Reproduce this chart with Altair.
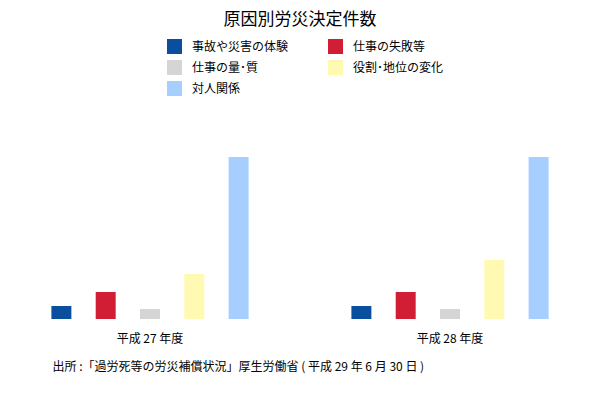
import altair as alt
import pandas as pd

years = ["平成 27 年度", "平成 28 年度"]
categories = ["事故や災害の体験", "仕事の失敗等", "仕事の量･質", "役割･地位の変化", "対人関係"]
colors = ["#0a4f9e", "#d21e34", "#d5d5d5", "#fff9b1", "#a6ceff"]
values_h27 = [13, 27, 10, 45, 162]
values_h28 = [13, 27, 10, 59, 162]
# legend is laid out column by column (3 rows x 2 columns)
legend_order = [0, 2, 4, 1, 3]

rows = []
for y, vals in zip(years, [values_h27, values_h28]):
    for c, v in zip(categories, vals):
        rows.append({"年度": y, "原因": c, "件数": v})
df = pd.DataFrame(rows)

FONT = "Noto Sans CJK JP"
SOURCE = "出所 :「過労死等の労災補償状況」厚生労働省 ( 平成 29 年 6 月 30 日 )"

chart = alt.Chart(df).mark_bar().encode(
    x=alt.X("年度:N", sort=years,
            scale=alt.Scale(paddingInner=0.2, paddingOuter=0.0733),
            axis=alt.Axis(title=SOURCE, labelAngle=0, domain=False, ticks=False,
                          labelPadding=14, labelFontSize=12, labelColor="#000",
                          labelFont=FONT, titleFont=FONT, titleFontSize=12,
                          titleFontWeight="normal", titleColor="#000",
                          titleAnchor="start", titleAlign="left",
                          titleX=44, titleY=47, titleBaseline="middle")),
    xOffset=alt.XOffset("原因:N", sort=categories,
                        scale=alt.Scale(paddingInner=0.549, paddingOuter=0.483)),
    y=alt.Y("件数:Q", scale=alt.Scale(domain=[0, 162], nice=False), axis=None),
    color=alt.Color("原因:N",
                    scale=alt.Scale(domain=[categories[i] for i in legend_order],
                                    range=[colors[i] for i in legend_order]),
                    legend=alt.Legend(title=None, orient="none", legendX=159, legendY=-118,
                                      columns=2, symbolType="square", symbolSize=225,
                                      symbolStrokeWidth=0, symbolOpacity=1,
                                      labelFontSize=12, labelFont=FONT, labelColor="#000",
                                      labelOffset=10, rowPadding=6, columnPadding=39)),
).properties(
    width=584, height=162,
    title=alt.TitleParams("原因別労災決定件数", font=FONT, fontSize=17,
                          fontWeight="normal", color="#000", anchor="middle", offset=10),
    autosize=alt.AutoSizeParams(type="none"),
    padding={"left": 0, "right": 0, "top": 149, "bottom": 60},
).configure_view(stroke=None)

chart.save("out.html", embed_options={"renderer": "svg", "actions": False})
